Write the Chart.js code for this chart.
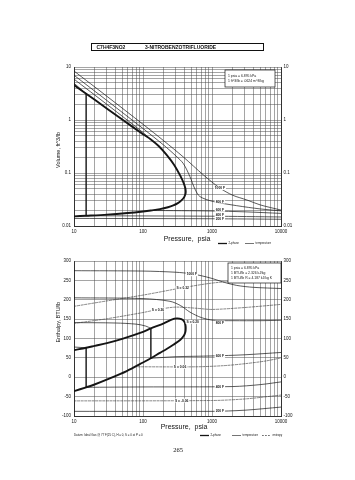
<!DOCTYPE html>
<html><head><meta charset="utf-8">
<script src="https://cdn.jsdelivr.net/npm/chart.js@4.4.0/dist/chart.umd.min.js"></script>
<style>
html,body{margin:0;padding:0;background:#fff;}
#page{position:relative;width:355px;height:480px;overflow:hidden;background:#fff;font-family:"Liberation Sans",Arial,sans-serif;color:#111;}
canvas{position:absolute;left:0;top:0;}
.t{position:absolute;white-space:nowrap;color:#111;line-height:1;}
.rot{transform:translate(-50%,-50%) rotate(-90deg);}
.vc{transform:translateY(-50%);}
</style></head><body>
<div id="page">
<canvas id="c1" width="355" height="480" style="width:355px;height:480px"></canvas>
<canvas id="c2" width="355" height="480" style="width:355px;height:480px"></canvas>
<div class="t" style="left:91px;top:43px;width:173px;height:8px;border:0.8px solid #111;box-sizing:border-box;"></div>
<div class="t vc" style="left:96.5px;top:47.3px;font-size:5px;font-weight:bold;">C7H4F3NO2</div>
<div class="t vc" style="left:145px;top:47.3px;font-size:5px;font-weight:bold;">3-NITROBENZOTRIFLUORIDE</div>
<div class="t rot" style="left:59px;top:150px;font-size:5.5px;">Volume, ft^3/lb</div>
<div class="t rot" style="left:59px;top:322px;font-size:5.5px;">Enthalpy, BTU/lb</div>
<div class="t" style="left:187px;top:237.5px;font-size:7px;transform:translate(-50%,-50%);">Pressure,&nbsp; psia</div>
<div class="t" style="left:184px;top:426px;font-size:7px;transform:translate(-50%,-50%);">Pressure,&nbsp; psia</div>
<div class="t" style="left:178px;top:450px;font-size:6.5px;font-family:'Liberation Serif',serif;transform:translate(-50%,-50%);">265</div>
</div>
<script>
// ---------- tick labels ----------
const pressureTickLabels = ['10','100','1000','10000'];
const volumeTickLabels = ['0.01','0.1','1','10'];
const enthalpyTickLabels = ['-100','-50','0','50','100','150','200','250','300'];

// ---------- top chart: volume (ft^3/lb) vs pressure (psia) ----------
const volDome = [[10,4.57],[20,2.4],[50,1.02],[100,0.54],[130,0.43],[170,0.32],[220,0.22],[280,0.145],[345,0.09],[390,0.064],[410,0.052],[416,0.045],
  [412,0.040],[395,0.035],[360,0.0305],[320,0.027],[275,0.0245],[230,0.0226],[176,0.0208],[130,0.0196],[100,0.0188],[60,0.0176],[30,0.0164],[15,0.0156],[10,0.0152]];
const vol1000F = [[10,8.4],[30,2.8],[100,0.83],[200,0.405],[385,0.2],[750,0.092],[1300,0.052],[2000,0.038],[3200,0.031],[5000,0.025],[10000,0.02]];
const vol800F = [[10,7.0],[30,2.33],[100,0.69],[200,0.335],[300,0.21],[385,0.15],[478,0.086],[565,0.05],[667,0.036],[1040,0.029],[2280,0.0242],[5000,0.021],[10000,0.0193]];
const vol600Fvap = [[10,5.9],[30,1.97],[60,0.98],[100,0.58],[130,0.43]];
const vol600Fliq = [[130,0.0196],[1000,0.0192],[3000,0.0185],[10000,0.0173]];
const vol400Fvap = [[10,4.95],[15,3.12]];
const vol400Fcross = [[15,3.12],[15,0.0156]];
const vol400Fliq = [[15,0.0156],[1000,0.0153],[10000,0.0148]];
const vol200F = [[10,0.0139],[1000,0.0137],[10000,0.0134]];
const volLabels = [['1000 F',1300,0.052],['800 F',1300,0.029],['600 F',1300,0.0203],['400 F',1300,0.0159],['200 F',1300,0.0137]];

// ---------- bottom chart: enthalpy (BTU/lb) vs pressure (psia) ----------
const hDome = [[10,70],[15,76],[20,81],[30,88],[50,99],[100,117],[130,126],[200,139],[260,149],[310,152],[360,150],[395,144],[412,135],[416,126],
  [410,116],[390,107],[345,96],[275,84],[220,73],[176,63],[130,49],[100,38],[58,16],[33,-3],[19,-20],[15,-26],[10,-36]];
const h1000F = [[10,275],[100,274],[300,271],[500,267],[700,262],[1000,255],[1500,245],[2280,237],[4000,232],[10000,229]];
const h800F = [[10,205],[100,203],[246,196],[350,185],[480,168],[700,154],[1046,147],[2000,146],[5000,146],[10000,147]];
const h600Fvap = [[10,141],[40,140],[80,137],[110,132],[130,126]];
const h600Fcross = [[130,126],[130,49]];
const h600Fliq = [[130,49],[300,53],[1000,55],[3000,58],[10000,64]];
const h400Fvap = [[10,78],[15,76]];
const h400Fcross = [[15,76],[15,-26]];
const h400Fliq = [[15,-26],[100,-25],[2000,-24],[5000,-19],[10000,-12]];
const h200F = [[10,-88],[1000,-88],[3000,-85],[10000,-77]];
const sA = [[10,183],[30,197],[100,212],[376,231],[1000,243],[3000,250],[10000,255]];
const sB = [[10,139],[30,151],[100,167],[165,175],[300,181],[600,178],[1000,175],[3000,180],[10000,188]];
const sC = [[85,27],[600,27],[1500,30],[3000,35],[6000,42],[10000,50]];
const sD = [[10,-61],[1000,-60],[3000,-56],[10000,-46]];
const hLabels = [['1000 F',510,266],['S = 0.32',376,231],['S = 0.26',165,175],['S = 0.20',526,143],['800 F',1300,141],['600 F',1300,55],
  ['S = 0.06',344,27],['400 F',1300,-24],['S = -0.06',363,-60],['200 F',1300,-88]];

// ---------- helpers ----------
const FONT = '"Liberation Sans", Arial, sans-serif';
const INK = '#151515';
function pts(a){ return a.map(p=>({x:p[0], y:p[1]})); }
function logTicks(minExp, maxExp){ const t=[]; for(let e=minExp;e<maxExp;e++){ for(let m=1;m<=9;m++) t.push(+(m*Math.pow(10,e)).toPrecision(6)); } t.push(Math.pow(10,maxExp)); return t; }
function decadeLabel(labels, minExp){ return function(v){ const l=Math.log10(v); const r=Math.round(l); return Math.abs(l-r)<1e-9 ? labels[r-minExp] : ''; }; }
function ds(data, kind){
  const base = {data: pts(data), pointRadius:0, fill:false, borderColor:INK, tension:0.3, borderCapStyle:'round', borderJoinStyle:'round'};
  if(kind==='thick'){ base.borderWidth=1.9; }
  else if(kind==='dash'){ base.borderWidth=0.6; base.borderDash=[2.2,1.4]; base.borderColor='#333'; }
  else if(kind==='v'){ base.borderWidth=0.7; base.tension=0; }
  else { base.borderWidth=0.7; }
  return base;
}
function drawLabels(chart, labels){
  const {ctx} = chart, x = chart.scales.x, y = chart.scales.y;
  ctx.save(); ctx.font = 'bold 3.3px '+FONT; ctx.textAlign='center'; ctx.textBaseline='middle';
  labels.forEach(([t,px,py])=>{
    const X=x.getPixelForValue(px), Y=y.getPixelForValue(py), w=ctx.measureText(t).width;
    ctx.fillStyle='#fff'; ctx.fillRect(X-w/2-1, Y-2, w+2, 4);
    ctx.fillStyle=INK; ctx.fillText(t,X,Y+0.2);
  });
  ctx.restore();
}
function infoBox(ctx, x, y, w, h, lines){
  ctx.save(); ctx.fillStyle='#fff'; ctx.fillRect(x,y,w,h); ctx.strokeStyle=INK; ctx.lineWidth=0.7; ctx.strokeRect(x,y,w,h);
  ctx.fillStyle=INK; ctx.font='3.4px '+FONT; ctx.textBaseline='middle'; ctx.textAlign='left';
  lines.forEach((l,i)=>ctx.fillText(l, x+3, y+h/(lines.length+1)*(i+1)));
  ctx.restore();
}
function legendItem(ctx, x, y, kind, text){
  ctx.save(); ctx.strokeStyle=INK; ctx.lineWidth = kind==='thick'?1.3:0.6; if(kind==='dash') ctx.setLineDash([1.8,1.2]);
  ctx.beginPath(); ctx.moveTo(x,y); ctx.lineTo(x+9,y); ctx.stroke(); ctx.setLineDash([]);
  ctx.fillStyle=INK; ctx.font='2.9px '+FONT; ctx.textBaseline='middle'; ctx.fillText(text, x+10.5, y);
  ctx.restore();
}
const gridOpts = {color:'#4a4a4a', lineWidth:0.5, drawTicks:false};
const borderOpts = {display:true, color:INK, width:0.8};
const tickFont = {size:4.5, family:FONT};

// ---------- top chart ----------
new Chart(document.getElementById('c1'), {
  type:'line',
  data:{datasets:[
    ds(vol1000F), ds(vol800F), ds(vol600Fvap), ds(vol600Fliq), ds(vol400Fvap), ds(vol400Fcross,'v'), ds(vol400Fliq), ds(vol200F),
    ds(volDome,'thick')
  ]},
  options:{
    responsive:false, animation:false, events:[],
    layout:{padding:{left:54, right:54, top:67, bottom:244}},
    plugins:{legend:{display:false}, tooltip:{enabled:false}},
    scales:{
      x:{type:'logarithmic', min:10, max:10000, position:'bottom',
         afterBuildTicks:s=>{ s.ticks = logTicks(1,4).map(v=>({value:v})); },
         afterFit:s=>{ s.height=10; },
         ticks:{autoSkip:false, maxRotation:0, padding:3, font:tickFont, color:INK, callback:decadeLabel(pressureTickLabels,1)},
         grid:gridOpts, border:borderOpts},
      y:{type:'logarithmic', min:0.01, max:10, position:'left',
         afterBuildTicks:s=>{ s.ticks = logTicks(-2,1).map(v=>({value:v})); },
         afterFit:s=>{ s.width=20; },
         ticks:{autoSkip:false, padding:3, font:tickFont, color:INK, callback:decadeLabel(volumeTickLabels,-2)},
         grid:gridOpts, border:borderOpts},
      y2:{type:'logarithmic', min:0.01, max:10, position:'right',
         afterBuildTicks:s=>{ s.ticks = logTicks(-2,1).map(v=>({value:v})); },
         afterFit:s=>{ s.width=20; },
         ticks:{autoSkip:false, padding:2.5, font:tickFont, color:INK, callback:decadeLabel(volumeTickLabels,-2)},
         grid:{display:false, drawTicks:false}, border:borderOpts}
    }
  },
  plugins:[{id:'deco1', afterDraw(chart){
    drawLabels(chart, volLabels);
    const ctx=chart.ctx;
    infoBox(ctx, 225, 70, 50, 17, ['1 psia = 6.895 kPa','1 ft^3/lb = .0624 m^3/kg']);
    legendItem(ctx, 218, 243.5, 'thick', '2-phase');
    legendItem(ctx, 245, 243.5, 'thin', 'temperature');
  }}]
});

// ---------- bottom chart ----------
new Chart(document.getElementById('c2'), {
  type:'line',
  data:{datasets:[
    ds(sA,'dash'), ds(sB,'dash'), ds(sC,'dash'), ds(sD,'dash'),
    ds(h1000F), ds(h800F), ds(h600Fvap), ds(h600Fcross,'v'), ds(h600Fliq), ds(h400Fvap), ds(h400Fcross,'v'), ds(h400Fliq), ds(h200F),
    ds(hDome,'thick')
  ]},
  options:{
    responsive:false, animation:false, events:[],
    layout:{padding:{left:54, right:54, top:261, bottom:54}},
    plugins:{legend:{display:false}, tooltip:{enabled:false}},
    scales:{
      x:{type:'logarithmic', min:10, max:10000, position:'bottom',
         afterBuildTicks:s=>{ s.ticks = logTicks(1,4).map(v=>({value:v})); },
         afterFit:s=>{ s.height=10; },
         ticks:{autoSkip:false, maxRotation:0, padding:3, font:tickFont, color:INK, callback:decadeLabel(pressureTickLabels,1)},
         grid:gridOpts, border:borderOpts},
      y:{type:'linear', min:-100, max:300, position:'left',
         afterBuildTicks:s=>{ s.ticks = enthalpyTickLabels.map(v=>({value:+v})); },
         afterFit:s=>{ s.width=20; },
         ticks:{autoSkip:false, padding:3, font:tickFont, color:INK, callback:(v,i)=>enthalpyTickLabels[i]},
         grid:gridOpts, border:borderOpts},
      y2:{type:'linear', min:-100, max:300, position:'right',
         afterBuildTicks:s=>{ s.ticks = enthalpyTickLabels.map(v=>({value:+v})); },
         afterFit:s=>{ s.width=20; },
         ticks:{autoSkip:false, padding:2.5, font:tickFont, color:INK, callback:(v,i)=>enthalpyTickLabels[i]},
         grid:{display:false, drawTicks:false}, border:borderOpts}
    }
  },
  plugins:[{id:'deco2', afterDraw(chart){
    drawLabels(chart, hLabels);
    const ctx=chart.ctx;
    infoBox(ctx, 228, 263, 53, 20, ['1 psia = 6.895 kPa','1 BTU/lb = 2.326 kJ/kg','1 BTU/lb R = 4.187 kJ/kg K']);
    ctx.save(); ctx.fillStyle=INK; ctx.font='2.9px '+FONT; ctx.textBaseline='middle';
    ctx.fillText('Datum: Ideal Gas @ 77 F(25 C), H = 0, S = 0 at P = 0', 74, 435.5); ctx.restore();
    legendItem(ctx, 200, 435.5, 'thick', '2-phase');
    legendItem(ctx, 232, 435.5, 'thin', 'temperature');
    legendItem(ctx, 262, 435.5, 'dash', 'entropy');
  }}]
});
</script>
</body></html>
